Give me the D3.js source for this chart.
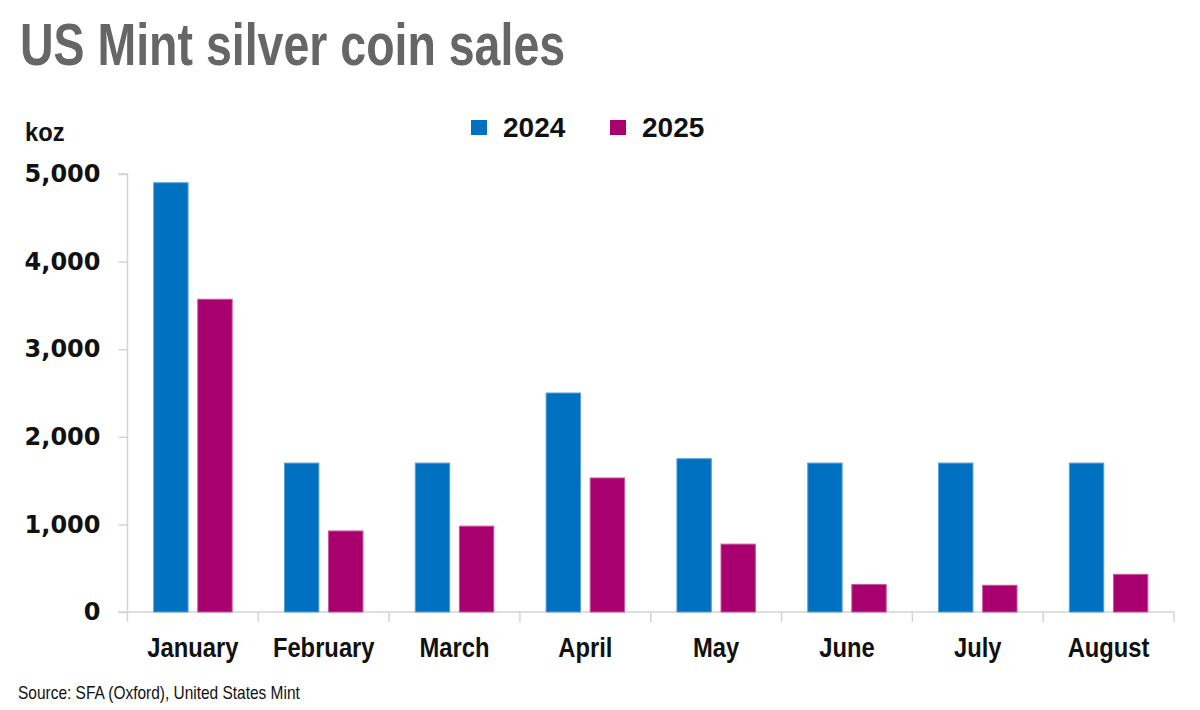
<!DOCTYPE html>
<html>
<head>
<meta charset="utf-8">
<script src="https://cdn.jsdelivr.net/npm/d3@7/dist/d3.min.js"></script>
<style>
  html, body { margin: 0; padding: 0; background: #fff; }
  svg { display: block; }
</style>
</head>
<body>
<svg id="chart" width="1200" height="710"></svg>
<script>
const months = ["January", "February", "March", "April", "May", "June", "July", "August"];
const seriesNames = ["2024", "2025"];
const sales2024 = [4900, 1700, 1700, 2500, 1750, 1700, 1700, 1700];
const sales2025 = [3570, 925, 980, 1530, 775, 315, 305, 430];
const yTicks = [0, 1000, 2000, 3000, 4000, 5000];
const colors = ["#0070C0", "#A8006F"];
const strokes = ["#5a9fd6", "#c9589c"];

const svg = d3.select("#chart");
const plotLeft = 127.5, plotRight = 1174, plotTop = 174, plotBottom = 612;
const condensedFont = "'Liberation Sans Narrow', 'Arial Narrow', 'Liberation Sans', Arial, sans-serif";

const x0 = d3.scaleBand().domain(months).range([plotLeft, plotRight]).paddingInner(0.4).paddingOuter(0.2);
const x1 = d3.scaleBand().domain(seriesNames).range([0, x0.bandwidth()]).paddingInner(0.22).paddingOuter(0);
const y = d3.scaleLinear().domain([0, 5000]).range([plotBottom, plotTop]);

// Title (condensed via horizontal scaling)
svg.append("text")
  .attr("transform", "translate(20,65) scale(0.775,1)")
  .attr("font-family", condensedFont)
  .attr("font-weight", "bold")
  .attr("font-size", 60)
  .attr("fill", "#666666")
  .text("US Mint silver coin sales");

// Unit label
svg.append("text")
  .attr("transform", "translate(25,141) scale(0.95,1)")
  .attr("font-family", "'Liberation Sans', Arial, sans-serif")
  .attr("font-weight", "bold")
  .attr("font-size", 25)
  .attr("fill", "#111")
  .text("koz");

// Legend
const legendX = [471, 610];
seriesNames.forEach((s, i) => {
  const g = svg.append("g").attr("transform", `translate(${legendX[i]},120)`);
  g.append("rect").attr("width", 16).attr("height", 15).attr("fill", colors[i]);
  g.append("text").attr("x", 32).attr("y", 17)
    .attr("font-family", "'Liberation Sans', Arial, sans-serif")
    .attr("font-weight", "bold").attr("font-size", 28).attr("fill", "#111")
    .text(s);
});

// Y axis
const yAxis = d3.axisLeft(y).tickValues(yTicks).tickSize(9).tickPadding(18)
  .tickFormat(d3.format(","));
const gy = svg.append("g").attr("transform", `translate(${plotLeft},0)`).call(yAxis);
gy.select(".domain").attr("stroke", "#d4d4d4").attr("stroke-width", 1.5).attr("d", `M-9,${plotTop}H0V${plotBottom}`);
gy.selectAll(".tick line").attr("stroke", "#d4d4d4").attr("stroke-width", 1.5);
gy.selectAll(".tick text")
  .attr("font-family", "'DejaVu Sans', Verdana, sans-serif")
  .attr("font-weight", "bold")
  .attr("font-size", 24)
  .attr("fill", "#111");

// X axis
const xAxis = d3.axisBottom(x0).tickSize(0).tickPadding(26);
const gx = svg.append("g").attr("transform", `translate(0,${plotBottom})`).call(xAxis);
gx.select(".domain").attr("stroke", "#d4d4d4").attr("stroke-width", 1.5).attr("d", `M${plotLeft - 9},0H${plotRight}`);
gx.selectAll(".tick text")
  .attr("transform", "scale(0.88,1)")
  .attr("font-family", condensedFont)
  .attr("font-weight", "bold")
  .attr("font-size", 27)
  .attr("fill", "#111");
// Category separator ticks
const bounds = months.map(m => x0(m) - x0.step() * x0.paddingOuter()).concat([plotRight]);
gx.selectAll(".sep").data(bounds).enter().append("line")
  .attr("x1", d => d).attr("x2", d => d).attr("y1", 0).attr("y2", 10)
  .attr("stroke", "#d4d4d4").attr("stroke-width", 1.5);

// Bars
const data = months.map((m, i) => ({ month: m, values: [sales2024[i], sales2025[i]] }));
const groups = svg.append("g").selectAll("g").data(data).enter().append("g")
  .attr("transform", d => `translate(${x0(d.month)},0)`);
groups.selectAll("rect").data(d => d.values.map((v, i) => ({ key: seriesNames[i], v, i })))
  .enter().append("rect")
  .attr("x", d => x1(d.key))
  .attr("y", d => y(d.v))
  .attr("width", x1.bandwidth())
  .attr("height", d => plotBottom - y(d.v))
  .attr("fill", d => colors[d.i])
  .attr("stroke", d => strokes[d.i])
  .attr("stroke-width", 1);

// Source
svg.append("text")
  .attr("transform", "translate(18,699) scale(0.86,1)")
  .attr("font-family", condensedFont)
  .attr("font-size", 18)
  .attr("fill", "#111")
  .text("Source: SFA (Oxford), United States Mint");
</script>
</body>
</html>
